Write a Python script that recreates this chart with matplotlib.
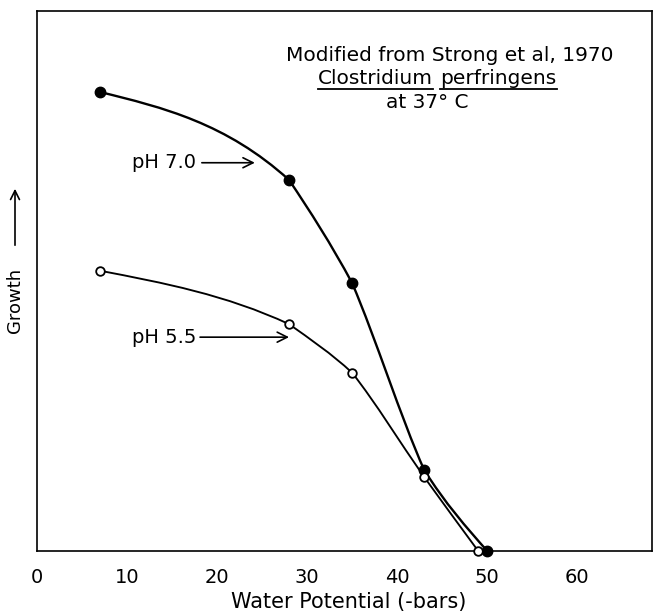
import numpy as np
import matplotlib
matplotlib.use("Agg")
import matplotlib.pyplot as plt
from matplotlib.path import Path
from matplotlib.patches import PathPatch, FancyArrowPatch
from matplotlib.lines import Line2D

# Data
ph70_x = [7, 28, 35, 43, 50]
ph70_y = [85.0, 68.7, 49.6, 15.0, 0.0]
ph55_x = [7, 28, 35, 43, 49]
ph55_y = [51.9, 42.0, 33.0, 13.7, 0.0]
xticks = [0, 10, 20, 30, 40, 50, 60]

plt.rcParams['font.family'] = ['DejaVu Sans']
W, H = 657, 611
fig = plt.figure(figsize=(W / 100, H / 100), dpi=100)
ax = fig.add_axes([37 / W, (H - 551) / H, (652 - 37) / W, (551 - 11) / H])
ax.set_xlim(0, 68.3)
ax.set_ylim(0, 100)
for s in ax.spines.values():
    s.set_linewidth(1.2)
ax.set_yticks([])
ax.set_xticks(xticks)
ax.set_xticklabels([str(t) for t in xticks], fontsize=14)
ax.tick_params(axis='x', length=0, pad=12)

SX, SY = 9.0, 5.4  # pixels per data unit, used only for curve smoothness


def smooth_path(xs, ys, blend=0.5):
    """Hand-drawn-looking Hermite curve through the points, as Beziers.
    Segment end slopes are blended between the node slope and the chord."""
    x = np.asarray(xs, float) * SX
    y = np.asarray(ys, float) * SY
    n = len(x)
    h = np.diff(x)
    dl = np.diff(y) / h
    m = np.zeros(n)
    for i in range(1, n - 1):
        m[i] = (h[i] * dl[i - 1] + h[i - 1] * dl[i]) / (h[i - 1] + h[i])
    m[0] = (3 * dl[0] - m[1]) / 2
    m[-1] = (3 * dl[-1] - m[-2]) / 2
    verts = [(x[0], y[0])]
    codes = [Path.MOVETO]
    for i in range(n - 1):
        s0 = blend * m[i] + (1 - blend) * dl[i]
        s1 = blend * m[i + 1] + (1 - blend) * dl[i]
        verts.append((x[i] + h[i] / 3, y[i] + s0 * h[i] / 3))
        verts.append((x[i + 1] - h[i] / 3, y[i + 1] - s1 * h[i] / 3))
        verts.append((x[i + 1], y[i + 1]))
        codes += [Path.CURVE4] * 3
    verts = np.array(verts) / np.array([SX, SY])
    return Path(verts, codes)


ax.add_patch(PathPatch(smooth_path(ph70_x, ph70_y), fill=False, lw=1.7,
                       edgecolor='black', zorder=2, capstyle='round',
                       joinstyle='round'))
ax.add_patch(PathPatch(smooth_path(ph55_x, ph55_y), fill=False, lw=1.35,
                       edgecolor='black', zorder=2, capstyle='round',
                       joinstyle='round'))
ax.plot(ph70_x, ph70_y, 'o', ms=7.5, mfc='black', mec='black', zorder=3,
        clip_on=False)
ax.plot(ph55_x, ph55_y, 'o', ms=6.2, mfc='white', mec='black', mew=1.3,
        zorder=4, clip_on=False)

# Annotations with arrows
ax.annotate('', xy=(24.5, 71.9), xytext=(18.0, 71.9),
            arrowprops=dict(arrowstyle='->', lw=1.2, color='black',
                            mutation_scale=18))
ax.text(17.7, 71.9, 'pH 7.0', fontsize=14, ha='right', va='center')
ax.annotate('', xy=(28.3, 39.6), xytext=(17.8, 39.6),
            arrowprops=dict(arrowstyle='->', lw=1.2, color='black',
                            mutation_scale=18))
ax.text(17.7, 39.6, 'pH 5.5', fontsize=14, ha='right', va='center')

# Title block
ax.text(45.8, 91.8, 'Modified from Strong et al, 1970', fontsize=14.5,
        ha='center', va='center')
t1 = ax.text(44.0, 87.5, 'Clostridium', fontsize=14.5, ha='right',
             va='center')
t2 = ax.text(44.8, 87.5, 'perfringens', fontsize=14.5, ha='left',
             va='center')
ax.text(43.3, 83.0, 'at 37° C', fontsize=14.5, ha='center', va='center')

# X-axis title
fig.text(349 / W, 1 - 602 / H, 'Water Potential (-bars)', fontsize=15,
         ha='center', va='center')

# Y-axis label with upward arrow
fig.text(15 / W, 1 - 300 / H, 'Growth', rotation=90, fontsize=13,
         ha='center', va='center')
fig.add_artist(FancyArrowPatch(
    (15 / W, 1 - 248 / H), (15 / W, 1 - 186 / H), transform=fig.transFigure,
    arrowstyle='->', lw=1.2, mutation_scale=16, color='black'))

# Underlines under the species name
fig.canvas.draw()
r = fig.canvas.get_renderer()
for t in (t1, t2):
    bb = t.get_window_extent(renderer=r)
    y = bb.y0 - 1
    fig.add_artist(Line2D([bb.x0 / W, bb.x1 / W], [y / H, y / H],
                          transform=fig.transFigure, color='black', lw=1.3))

fig.savefig('out.png', dpi=100)
